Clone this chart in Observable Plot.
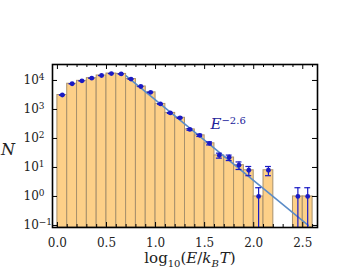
<!DOCTYPE html>
<html><head><meta charset="utf-8">
<script src="https://cdn.jsdelivr.net/npm/d3@7"></script>
<script src="https://cdn.jsdelivr.net/npm/@observablehq/plot@0.6"></script>
<style>body{margin:0;background:#fff}</style>
</head><body><div id="chart"></div>
<script>
const binLo  = [0.0,0.1,0.2,0.3,0.4,0.5,0.6,0.7,0.8,0.9,1.0,1.1,1.2,1.3,1.4,1.5,1.6,1.7,1.8,1.9,2.0,2.1,2.2,2.3,2.4,2.5];
const binHi  = [0.1,0.2,0.3,0.4,0.5,0.6,0.7,0.8,0.9,1.0,1.1,1.2,1.3,1.4,1.5,1.6,1.7,1.8,1.9,2.0,2.1,2.2,2.3,2.4,2.5,2.6];
const counts = [3150,7700,9700,12000,14800,17300,16800,11200,6200,3900,1550,760,515,205,128,68,26,22,12,8,1,8,0,0,1,1];
const errors = [56,88,98,110,122,132,130,106,79,62,39,28,23,14,11,8.2,5.1,4.7,3.5,2.8,1,2.8,0,0,1,1];
const fitX = [0.70, 2.556];
const fitY = [14500, 0.1];
const fitLabelX = [1.56];
const fitLabelY = [215];
const xTicksMajor = [0,0.5,1.0,1.5,2.0,2.5];
const xTicksMinor = [0.1,0.2,0.3,0.4,0.6,0.7,0.8,0.9,1.1,1.2,1.3,1.4,1.6,1.7,1.8,1.9,2.1,2.2,2.3,2.4,2.6];
const yTicks = [0.1,1,10,100,1000,10000];

const W = 353, H = 273, mL = 52, mR = 36, mT = 64, mB = 46;
const innerW = W - mL - mR, innerH = H - mT - mB;
const yDomain = [0.085, 35500];
const serif = "DejaVu Serif";

const bins = binLo.map((lo,i)=>({lo, hi: binHi[i], mid:(lo+binHi[i])/2, n: counts[i], e: errors[i]})).filter(d=>d.n>0);
const fit = fitX.map((x,i)=>({x, y: fitY[i]}));
const blue = "#1a1ac4";

const plot = Plot.plot({
  width: W, height: H, marginLeft: mL, marginRight: mR, marginTop: mT, marginBottom: mB,
  x: {domain: [-0.05, 2.65]},
  y: {type: "log", domain: yDomain},
  style: {fontFamily: serif, background: "white"},
  marks: [
    Plot.rect(bins, {x1: "lo", x2: "hi", y1: () => yDomain[0], y2: "n", fill: "#fdd088", stroke: "#a8916c", strokeWidth: 1}),
    Plot.line(fit, {x: "x", y: "y", stroke: "#5b8cc8", strokeWidth: 1.6}),
    Plot.ruleX(bins, {x: "mid", y1: d => Math.max(d.n - d.e, 1e-4), y2: d => d.n + d.e, stroke: blue, strokeWidth: 1.2, clip: true}),
    Plot.ruleY(bins.filter(d => d.n - d.e > 0), {y: d => d.n - d.e, x1: d => d.mid - 0.03, x2: d => d.mid + 0.03, stroke: blue, strokeWidth: 1.2}),
    Plot.ruleY(bins, {y: d => d.n + d.e, x1: d => d.mid - 0.03, x2: d => d.mid + 0.03, stroke: blue, strokeWidth: 1.2}),
    Plot.dot(bins, {x: "mid", y: "n", r: 2.4, fill: blue, stroke: "none"}),
    Plot.frame({stroke: "black", strokeWidth: 1.6}),
    Plot.tickX(xTicksMajor, {x: d => d, insetTop: innerH - 5, stroke: "black"}),
    Plot.tickX(xTicksMajor, {x: d => d, insetBottom: innerH - 5, stroke: "black"}),
    Plot.tickX(xTicksMinor, {x: d => d, insetTop: innerH - 3, stroke: "black"}),
    Plot.tickX(xTicksMinor, {x: d => d, insetBottom: innerH - 3, stroke: "black"}),
    Plot.tickY(yTicks, {y: d => d, insetRight: innerW - 5, stroke: "black"}),
    Plot.tickY(yTicks, {y: d => d, insetLeft: innerW - 5, stroke: "black"}),
    Plot.axisX(xTicksMajor, {tickSize: 0, tickPadding: 11, tickFormat: d3.format(".1f"), fontSize: 12, fill: "#222"}),
    Plot.axisY({ticks: []}),
    Plot.text(yTicks, {y: d => d, frameAnchor: "left", dx: -29, textAnchor: "start", text: d => String(Math.round(Math.log10(d))), fontSize: 12, fill: "#222", ariaLabel: () => "ylab"}),
    Plot.text(fitLabelX, {x: d => d, y: (d,i) => fitLabelY[i], text: () => "E|−2.6", textAnchor: "start", fontSize: 15, fill: "#22229a", ariaLabel: () => "fitlab", lineAnchor: "bottom"})
  ]
});

const svg = d3.select(plot);
svg.selectAll('text[aria-label="ylab"]').each(function() {
  const t = d3.select(this); const exp = t.text(); t.text("");
  t.append("tspan").text("10");
  t.append("tspan").attr("dy", "-0.45em").attr("font-size", 9).text(exp.replace("-", "−"));
});
svg.selectAll('text[aria-label="fitlab"]').each(function() {
  const t = d3.select(this); const parts = t.text().split("|"); t.text("");
  t.append("tspan").attr("font-style", "italic").text(parts[0]);
  t.append("tspan").attr("dy", "-0.5em").attr("font-size", 10).text(parts[1]);
});
svg.append("text").attr("x", 8).attr("y", 155).attr("text-anchor", "middle")
  .attr("font-style", "italic").attr("font-size", 16).attr("fill", "#222").text("N");
const xl = svg.append("text").attr("x", 190).attr("y", 263).attr("text-anchor", "middle")
  .attr("font-size", 15).attr("fill", "#222");
xl.append("tspan").text("log");
xl.append("tspan").attr("font-size", 10).attr("dy", 4).text("10");
xl.append("tspan").attr("dy", -4).text("(");
xl.append("tspan").attr("font-style", "italic").text("E");
xl.append("tspan").text("/");
xl.append("tspan").attr("font-style", "italic").text("k");
xl.append("tspan").attr("font-style", "italic").attr("font-size", 10).attr("dy", 4).text("B");
xl.append("tspan").attr("font-style", "italic").attr("dy", -4).attr("dx", 1).text("T");
xl.append("tspan").text(")");
svg.selectAll("text, tspan").style("font-family", serif);
document.getElementById("chart").append(plot);
</script></body></html>
